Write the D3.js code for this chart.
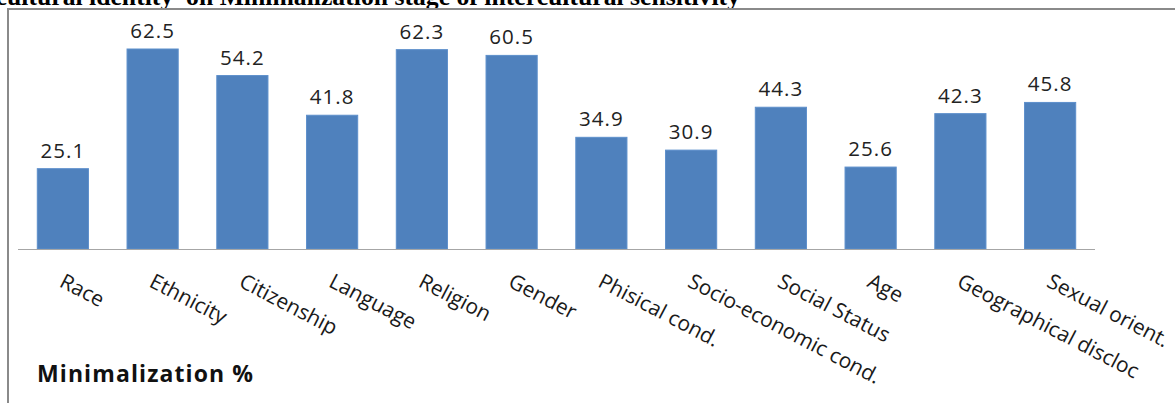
<!DOCTYPE html>
<html>
<head>
<meta charset="utf-8">
<script src="https://cdn.jsdelivr.net/npm/d3@7"></script>
<style>
  html, body { margin: 0; padding: 0; background: #fff; }
  svg { display: block; }
</style>
</head>
<body>
<svg id="chart" width="1175" height="403"></svg>
<script>
// Minimalization stage scores (%) per cultural-identity dimension
const categories = ["Race", "Ethnicity", "Citizenship", "Language", "Religion", "Gender",
  "Phisical cond.", "Socio-economic cond.", "Social Status", "Age", "Geographical discloc", "Sexual orient."];
const values = [25.1, 62.5, 54.2, 41.8, 62.3, 60.5, 34.9, 30.9, 44.3, 25.6, 42.3, 45.8];
const titleText = "cultural identity  on Minimalization stage of intercultural sensitivity";
const seriesName = "Minimalization %";

const svg = d3.select("#chart");
const W = 1175, H = 403;

// Caption line above the chart frame
const title = svg.append("text")
  .attr("x", 740).attr("y", 5)
  .attr("text-anchor", "end")
  .attr("font-family", "'Liberation Serif', 'Times New Roman', serif")
  .attr("font-weight", "bold")
  .attr("font-size", 20)
  .style("white-space", "pre")
  .attr("fill", "#000")
  .text(titleText);
const tw = title.node().getComputedTextLength();
title.attr("font-size", 20 * 745 / tw);

// Chart frame (left and top edges)
svg.append("path")
  .attr("d", `M8,${H} L8,9 L${W},9`)
  .attr("fill", "none")
  .attr("stroke", "#8a8a8a")
  .attr("stroke-width", 2);

const x = d3.scaleBand()
  .domain(categories)
  .range([18, 1095])
  .paddingInner(0.43)
  .paddingOuter(0.215);

const y = d3.scaleLinear()
  .domain([0, 70])
  .range([249, 25]);

// Bars
svg.append("g").selectAll("rect")
  .data(values)
  .join("rect")
  .attr("x", (d, i) => x(categories[i]))
  .attr("y", d => y(d))
  .attr("width", x.bandwidth())
  .attr("height", d => y(0) - y(d))
  .attr("fill", "#4f81bd")
  .attr("stroke", "#5d8fcb")
  .attr("stroke-width", 1);

// Value labels
svg.append("g").selectAll("text")
  .data(values)
  .join("text")
  .attr("x", (d, i) => x(categories[i]) + x.bandwidth() / 2)
  .attr("y", d => y(d) - 11)
  .attr("text-anchor", "middle")
  .attr("font-family", "'Open Sans', sans-serif")
  .attr("font-size", 20.5)
  .attr("letter-spacing", 1)
  .attr("fill", "#222")
  .text(d => d.toFixed(1));

// Category axis
const xAxis = svg.append("g")
  .attr("transform", `translate(0,${y(0)})`)
  .call(d3.axisBottom(x).tickSize(0).tickPadding(0));
xAxis.select(".domain").attr("stroke", "#a6a6a6").attr("d", "M18,0.5H1095");
xAxis.selectAll(".tick text")
  .attr("font-family", "'Open Sans', sans-serif")
  .attr("font-size", 21)
  .attr("fill", "#1a1a1a")
  .attr("text-anchor", "start")
  .attr("dy", 0)
  .attr("y", 0)
  .attr("transform", `translate(${-x.bandwidth() / 2 + 21},37) rotate(27.5)`);

// Series legend label
svg.append("text")
  .attr("x", 37).attr("y", 382)
  .attr("font-family", "'Open Sans', sans-serif")
  .attr("font-weight", "bold")
  .attr("font-size", 23)
  .attr("letter-spacing", 1.1)
  .attr("fill", "#111")
  .text(seriesName);
</script>
</body>
</html>
